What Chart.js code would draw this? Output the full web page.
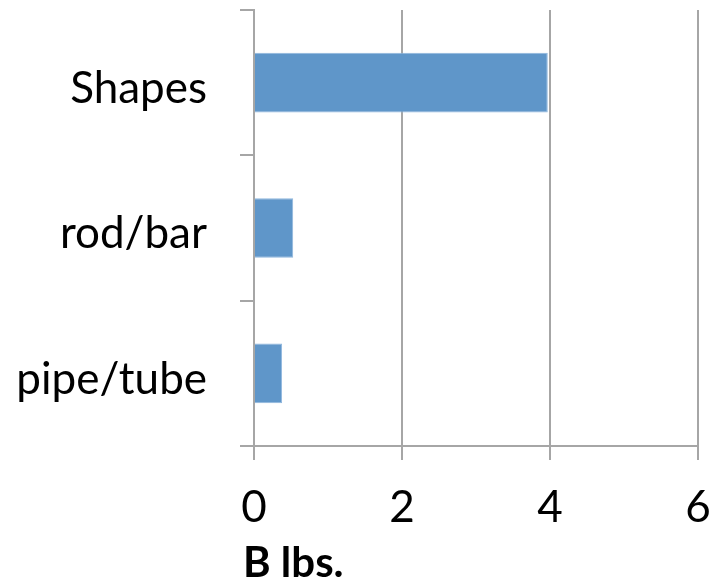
<!DOCTYPE html>
<html>
<head>
<meta charset="utf-8">
<script src="https://cdn.jsdelivr.net/npm/chart.js@4/dist/chart.umd.min.js"></script>
<style>
  html, body { margin: 0; padding: 0; background: #ffffff; }
  #wrap { width: 710px; height: 581px; }
</style>
</head>
<body>
<div id="wrap"><canvas id="c" width="710" height="581"></canvas></div>
<script>
// Categories, top to bottom
const categories = ['Shapes', 'rod/bar', 'pipe/tube'];
// Weight per product form, billions of lbs.
const weights = [3.97, 0.53, 0.38];
// Value axis ticks
const xTicks = [0, 2, 4, 6];
const axisTitle = 'B lbs.';

const GRID = '#a6a6a6';
const FONT = 'Lato, "Open Sans", sans-serif';

// Axis title drawn below the tick labels, left-aligned just before the value axis origin
const axisTitlePlugin = {
  id: 'axisTitleText',
  afterDraw(chart) {
    const ctx = chart.ctx;
    ctx.save();
    ctx.font = 'bold 42px ' + FONT;
    ctx.fillStyle = '#000000';
    ctx.textAlign = 'left';
    ctx.textBaseline = 'alphabetic';
    ctx.fillText(axisTitle, chart.chartArea.left - 11, 577);
    ctx.restore();
  }
};

new Chart(document.getElementById('c'), {
  type: 'bar',
  data: {
    labels: categories,
    datasets: [{
      data: weights,
      backgroundColor: '#5f96c9',
      borderColor: '#8fb6dd',
      borderWidth: 1,
      borderSkipped: 'left',
      categoryPercentage: 1,
      barPercentage: 0.41
    }]
  },
  options: {
    indexAxis: 'y',
    responsive: false,
    animation: false,
    layout: { padding: { top: 10, right: 12, left: 0, bottom: 0 } },
    plugins: { legend: { display: false }, tooltip: { enabled: false } },
    scales: {
      x: {
        min: 0,
        max: 6,
        afterBuildTicks(scale) { scale.ticks = xTicks.map(v => ({ value: v })); },
        afterFit(scale) {
          scale.height = 135;
          scale.paddingLeft = 0;
          scale.paddingRight = 0;
        },
        grid: { color: GRID, lineWidth: 2, drawOnChartArea: true, drawTicks: true, tickLength: 14 },
        border: { display: true, color: GRID, width: 2 },
        ticks: { color: '#000000', font: { family: FONT, size: 44 }, padding: 21, maxRotation: 0 }
      },
      y: {
        afterFit(scale) {
          scale.width = 254;
          scale.paddingTop = 0;
          scale.paddingBottom = 0;
        },
        grid: { color: GRID, lineWidth: 2, drawOnChartArea: false, drawTicks: true, tickLength: 14, offset: true },
        border: { display: true, color: GRID, width: 2 },
        ticks: { color: '#000000', font: { family: FONT, size: 44 }, padding: 33, labelOffset: 6 }
      }
    }
  },
  plugins: [axisTitlePlugin]
});
</script>
</body>
</html>
